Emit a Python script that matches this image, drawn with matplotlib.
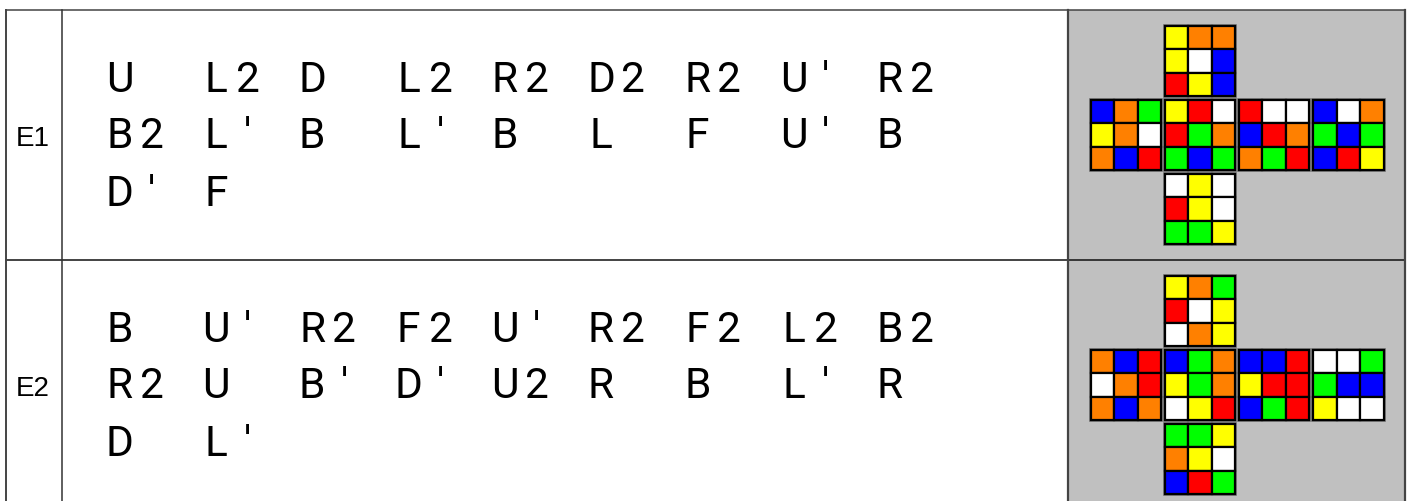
import matplotlib
matplotlib.use("Agg")
import matplotlib.pyplot as plt
from matplotlib.patches import Rectangle

# ---- data ----
labels = ["E1", "E2"]
scrambles = [
    ["U L2 D L2 R2 D2 R2 U' R2", "B2 L' B L' B L F U' B", "D' F"],
    ["B U' R2 F2 U' R2 F2 L2 B2", "R2 U B' D' U2 R B L' R", "D L'"],
]
palette = {"Y": "#FFFF00", "O": "#FF8000", "W": "#FFFFFF",
           "B": "#0000FF", "R": "#FF0000", "G": "#00FF00"}
cube1 = {
    "U": ["YOO", "YWB", "RYB"],
    "L": ["BOG", "YOW", "OBR"],
    "F": ["YRW", "RGO", "GBG"],
    "R": ["RWW", "BRO", "OGR"],
    "B": ["BWO", "GBG", "BRY"],
    "D": ["WYW", "RYW", "GGY"],
}
cube2 = {
    "U": ["YOG", "RWY", "WOY"],
    "L": ["OBR", "WOR", "OBO"],
    "F": ["BGO", "YGO", "WYR"],
    "R": ["BBR", "YRR", "BGR"],
    "B": ["WWG", "GBB", "YWW"],
    "D": ["GGY", "OYW", "BRG"],
}
cubes = [cube1, cube2]

# ---- layout (pixel space) ----
W, H = 1410, 501
fig = plt.figure(figsize=(W / 100, H / 100), dpi=100)
ax = fig.add_axes([0, 0, 1, 1])
ax.set_xlim(0, W)
ax.set_ylim(H, 0)
ax.axis("off")

x_left, x_c1, x_c2, x_right = 6, 62, 1068, 1405
row_top = [10, 260]
row_h = 250

# gray background of the cube column
for r in range(2):
    ax.add_patch(Rectangle((x_c2, row_top[r]), x_right - x_c2, row_h,
                           facecolor="#c0c0c0", edgecolor="none", zorder=0))

# grid lines
ax.plot([x_left, x_right], [10, 10], color="#444444", lw=1.1, zorder=3)
ax.plot([x_left, x_right], [260, 260], color="#111111", lw=1.1, zorder=3)
ax.plot([x_left, x_left], [10, 520], color="#444444", lw=1.4, zorder=3)
ax.plot([x_c1, x_c1], [10, 520], color="#333333", lw=1.1, zorder=3)
ax.plot([x_c2, x_c2], [10, 520], color="#444444", lw=1.6, zorder=3)
ax.plot([x_right, x_right], [10, 520], color="#444444", lw=1.6, zorder=3)

cell_w = 32.1
tok_w = 96.3
x0 = 104.5
line_gap = 57

for r in range(2):
    center = row_top[r] + 123.5
    ax.text(32.5, row_top[r] + 126 + 9.5, labels[r], ha="center", va="baseline",
            fontsize=20, family="Liberation Sans", color="black")
    for li, line in enumerate(scrambles[r]):
        base = center + (li - 1) * line_gap + 15
        for ti, tok in enumerate(line.split()):
            for ci, ch in enumerate(tok):
                cx = x0 + ti * tok_w + ci * cell_w + 15
                ax.text(cx, base, ch, ha="center", va="baseline",
                        fontsize=30.5, family="Roboto", color="black")

# cube nets
face_pos = {"U": (1, 0), "L": (0, 1), "F": (1, 1), "R": (2, 1), "B": (3, 1), "D": (1, 2)}
fx0, fy0 = 1090.7, 25.7
stride = 74.1
st = 23.5
for r in range(2):
    cube = cubes[r]
    for face, (fc, fr) in face_pos.items():
        ox = fx0 + fc * stride
        oy = fy0 + fr * stride + row_top[r] - 10
        ax.add_patch(Rectangle((ox - 1, oy - 1), 3 * st + 2, 3 * st + 2,
                               facecolor="none", edgecolor="#707070", lw=1.2, zorder=4))
        for i in range(3):
            for j in range(3):
                ax.add_patch(Rectangle((ox + j * st, oy + i * st), st, st,
                                       facecolor=palette[cube[face][i][j]],
                                       edgecolor="black", lw=1.6, zorder=5))

fig.savefig("out.png", dpi=100)
